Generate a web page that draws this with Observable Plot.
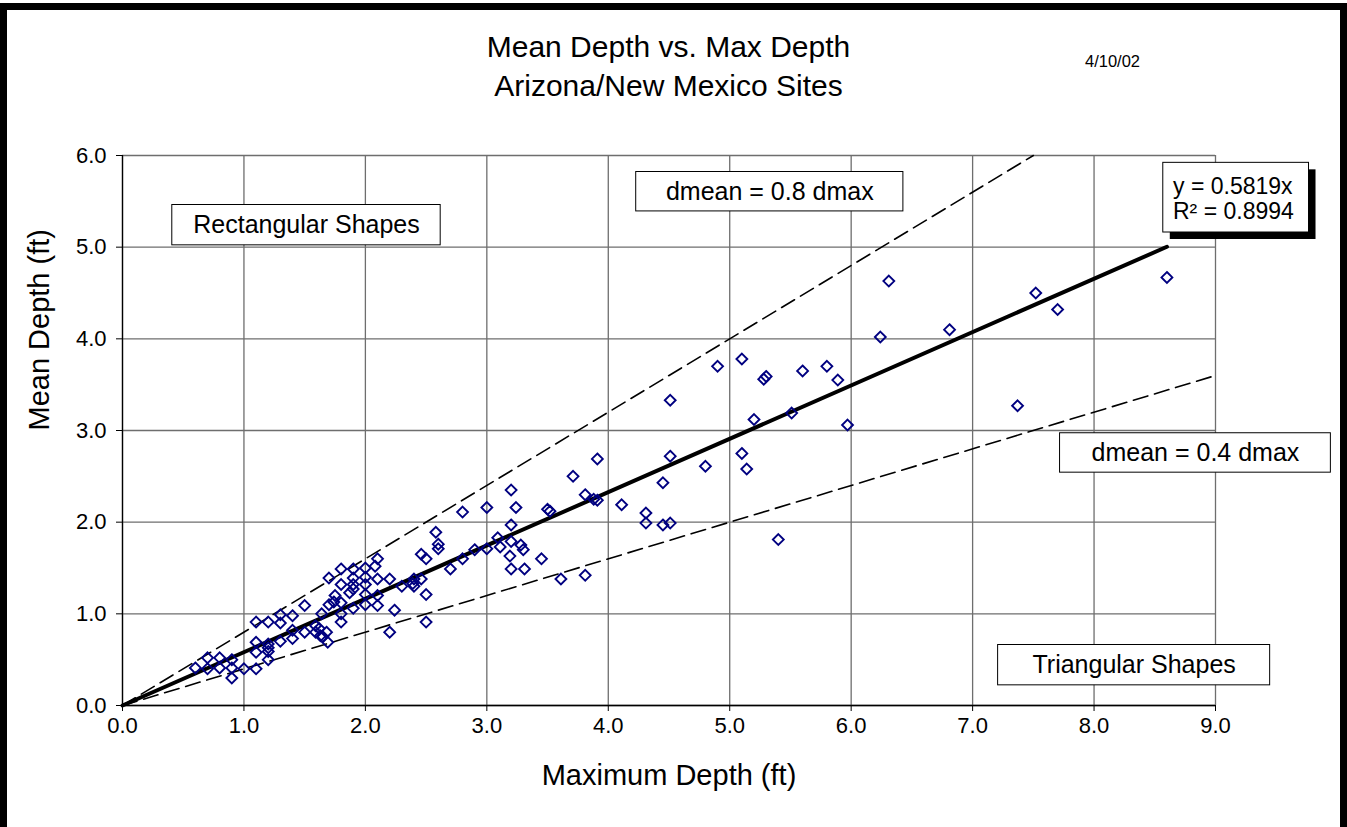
<!DOCTYPE html>
<html>
<head>
<meta charset="utf-8">
<script src="https://cdn.jsdelivr.net/npm/d3@7"></script>
<script src="https://cdn.jsdelivr.net/npm/@observablehq/plot@0.6"></script>
<style>
  html, body { margin: 0; padding: 0; background: #fff; }
  body { width: 1347px; height: 827px; overflow: hidden; position: relative; font-family: "Liberation Sans", Arial, sans-serif; }
  #frame { position: absolute; left: 0; top: 3px; width: 1347px; height: 900px; box-sizing: border-box; border: 7px solid #000; border-bottom: none; pointer-events: none; z-index: 5; }
  #title { position: absolute; left: 0; width: 1337px; top: 27px; text-align: center; font-size: 30px; line-height: 39px; color: #000; }
  #date { position: absolute; left: 1085px; top: 52px; font-size: 16.5px; color: #000; }
  #chart { position: absolute; left: 0; top: 120px; }
</style>
</head>
<body>
<div id="frame"></div>
<div id="title">Mean Depth vs. Max Depth<br>Arizona/New Mexico Sites</div>
<div id="date">4/10/02</div>
<div id="chart"></div>
<script>
// ---- data ----
const maxDepth = [
  0.60,0.70,0.70,0.80,0.80,0.90,0.90,0.90,1.00,1.10,
  1.10,1.10,1.10,1.20,1.20,1.20,1.20,1.20,1.30,1.30,
  1.30,1.40,1.40,1.40,1.50,1.50,1.59,1.62,1.59,1.63,
  1.68,1.65,1.69,1.64,1.70,1.74,1.75,1.80,1.80,1.80,
  1.87,1.90,1.70,1.80,1.80,1.90,1.90,1.90,1.90,2.00,
  2.00,2.00,2.00,2.00,2.08,2.10,2.10,2.10,2.10,2.20,
  2.24,2.20,2.30,2.39,2.40,2.40,2.46,2.46,2.50,2.50,
  2.50,2.58,2.60,2.60,2.70,2.80,2.80,2.90,3.00,3.00,
  3.20,3.24,3.20,3.09,3.11,3.20,3.28,3.30,3.19,3.20,
  3.31,3.45,3.50,3.52,3.71,3.81,3.88,3.91,3.91,3.61,
  3.81,4.11,4.31,4.31,4.45,4.51,4.45,4.51,4.51,4.90,
  5.10,5.28,5.30,5.60,5.80,5.89,5.20,5.51,5.97,4.80,
  5.10,5.14,5.40,6.24,6.31,6.81,7.37,7.52,7.70,8.60
];
const meanDepth = [
  0.41,0.52,0.40,0.52,0.41,0.50,0.41,0.30,0.40,0.40,
  0.91,0.69,0.58,0.91,0.67,0.63,0.59,0.50,0.99,0.90,
  0.70,0.98,0.82,0.73,1.09,0.80,0.87,0.84,0.80,0.76,
  0.80,0.75,0.69,1.00,1.10,1.13,1.20,1.12,1.00,0.91,
  1.23,1.06,1.39,1.49,1.32,1.49,1.39,1.32,1.27,1.50,
  1.40,1.32,1.21,1.10,1.52,1.60,1.38,1.20,1.09,1.38,
  1.04,0.80,1.30,1.33,1.38,1.30,1.38,1.65,1.60,1.21,
  0.91,1.89,1.76,1.71,1.49,1.60,2.11,1.70,2.16,1.71,
  2.35,2.16,1.97,1.83,1.73,1.79,1.75,1.70,1.63,1.49,
  1.49,1.60,2.14,2.12,2.50,2.30,2.25,2.24,2.69,1.38,
  1.42,2.19,2.10,1.99,1.97,1.99,2.43,2.72,3.33,3.70,
  3.78,3.56,3.59,3.65,3.70,3.55,3.12,3.19,3.06,2.61,
  2.75,2.58,1.81,4.02,4.63,4.10,3.27,4.50,4.32,4.67
];
const slope = 0.5819;
const rSquared = 0.8994;
const envelopeRatios = [0.8, 0.4];
const xTicks = [0,1,2,3,4,5,6,7,8,9];
const yTicks = [0,1,2,3,4,5,6];
const xDomain = [0, 9];
const yDomain = [0, 6];

// annotation text boxes (data-space extents)
const boxLabels = ["Rectangular Shapes", "dmean = 0.8 dmax", "dmean = 0.4 dmax", "Triangular Shapes"];
const boxX1 = [0.41, 4.23, 7.72, 7.21];
const boxX2 = [2.62, 6.43, 9.95, 9.45];
const boxY1 = [5.02, 5.39, 2.54, 0.22];
const boxY2 = [5.46, 5.82, 2.97, 0.66];
const eqBox = {x1: 8.57, x2: 9.77, y1: 5.16, y2: 5.92};
const eqLines = [`y = ${slope}x`, `R² = ${rSquared}`];
const eqLineX = [8.65, 8.65];
const eqLineY = [5.66, 5.39];

// ---- derived tables ----
const points = maxDepth.map((x, i) => ({x, y: meanDepth[i]}));
const xMax = d3.max(maxDepth);
const fit = [{x: 0, y: 0}, {x: xMax, y: slope * xMax}];
const envelopes = envelopeRatios.flatMap(r => {
  const xe = Math.min(xDomain[1], yDomain[1] / r);
  return [{r, x: 0, y: 0}, {r, x: xe, y: r * xe}];
});
const boxes = boxLabels.map((label, i) => ({
  label, x1: boxX1[i], x2: boxX2[i], y1: boxY1[i], y2: boxY2[i],
  cx: (boxX1[i] + boxX2[i]) / 2, cy: (boxY1[i] + boxY2[i]) / 2
}));
const eqRows = eqLines.map((t, i) => ({t, x: eqLineX[i], y: eqLineY[i]}));
const fmt = d3.format(".1f");
const gridColor = "#6e6e6e";

const plot = Plot.plot({
  width: 1347,
  height: 707,
  marginTop: 35,
  marginBottom: 122,
  marginLeft: 122,
  marginRight: 132,
  style: {fontFamily: "Liberation Sans, Arial, sans-serif", background: "transparent", overflow: "visible"},
  x: {domain: xDomain},
  y: {domain: yDomain},
  marks: [
    Plot.ruleX(xTicks, {stroke: gridColor, strokeWidth: 1.3}),
    Plot.ruleY(yTicks, {stroke: gridColor, strokeWidth: 1.3}),
    Plot.ruleX([0], {stroke: "#000", strokeWidth: 1.3}),
    Plot.ruleY([0], {stroke: "#000", strokeWidth: 1.3}),
    Plot.axisX(xTicks, {tickFormat: fmt, fontSize: 22, tickSize: 6, tickPadding: 6, label: null, stroke: "#000"}),
    Plot.axisY(yTicks, {tickFormat: fmt, fontSize: 22, tickSize: 6, tickPadding: 10, label: null, stroke: "#000"}),
    Plot.text(["Maximum Depth (ft)"], {frameAnchor: "bottom", dy: 79, fontSize: 29, fill: "#000"}),
    Plot.text(["Mean Depth (ft)"], {frameAnchor: "left", dx: -83, rotate: -90, fontSize: 29, fill: "#000"}),
    Plot.line(envelopes, {x: "x", y: "y", z: "r", stroke: "#000", strokeWidth: 1.6, strokeDasharray: "15,7"}),
    Plot.line(fit, {x: "x", y: "y", stroke: "#000", strokeWidth: 4}),
    Plot.dot(points, {x: "x", y: "y", symbol: "diamond2", r: 4.9, stroke: "#000080", strokeWidth: 1.9, fill: "none"}),
    Plot.rect(boxes, {x1: "x1", x2: "x2", y1: "y1", y2: "y2", fill: "#fff", stroke: "#000", strokeWidth: 1}),
    Plot.text(boxes, {x: "cx", y: "cy", text: "label", fontSize: 25, fill: "#000"}),
    Plot.rect([eqBox], {x1: "x1", x2: "x2", y1: "y1", y2: "y2", fill: "#000", dx: 7, dy: 7}),
    Plot.rect([eqBox], {x1: "x1", x2: "x2", y1: "y1", y2: "y2", fill: "#fff", stroke: "#000", strokeWidth: 1}),
    Plot.text(eqRows, {x: "x", y: "y", text: "t", textAnchor: "start", fontSize: 23, fill: "#000"})
  ]
});
document.getElementById("chart").appendChild(plot);
</script>
</body>
</html>
